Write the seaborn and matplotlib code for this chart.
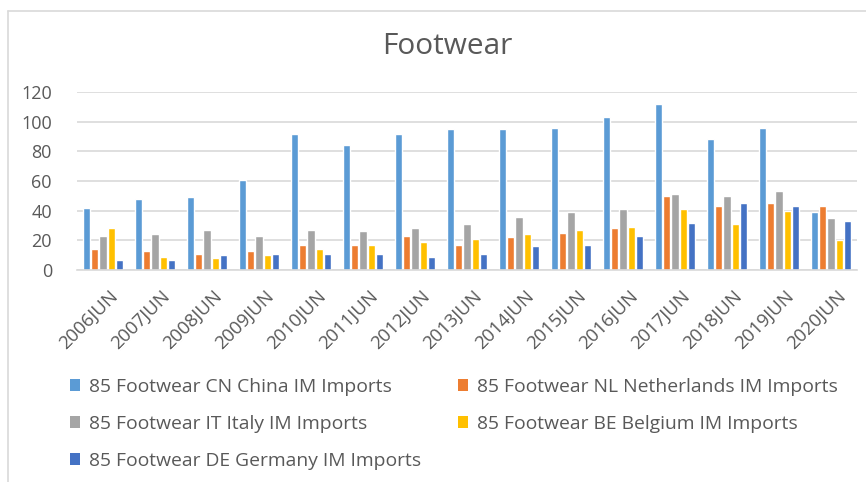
import matplotlib
matplotlib.use("Agg")
import matplotlib.pyplot as plt
import matplotlib.transforms as mtrans
import seaborn as sns
import pandas as pd
from matplotlib.patches import Patch
from matplotlib.lines import Line2D

years = ["2006JUN", "2007JUN", "2008JUN", "2009JUN", "2010JUN", "2011JUN", "2012JUN",
         "2013JUN", "2014JUN", "2015JUN", "2016JUN", "2017JUN", "2018JUN", "2019JUN", "2020JUN"]
series_names = ["85 Footwear CN China IM Imports", "85 Footwear NL Netherlands IM Imports",
                "85 Footwear IT Italy IM Imports", "85 Footwear BE Belgium IM Imports",
                "85 Footwear DE Germany IM Imports"]
cn = [42, 48, 49, 61, 92, 84, 92, 95, 95, 96, 103, 112, 88, 96, 39]
nl = [14, 13, 11, 13, 17, 17, 23, 17, 22, 25, 28, 50, 43, 45, 43]
it = [23, 24, 27, 23, 27, 26, 28, 31, 36, 39, 41, 51, 50, 53, 35]
be = [28, 9, 8, 10, 14, 17, 19, 21, 24, 27, 29, 41, 31, 40, 20]
de = [7, 7, 10, 11, 11, 11, 9, 11, 16, 17, 23, 32, 45, 43, 33]
colors = ["#5B9BD5", "#ED7D31", "#A5A5A5", "#FFC000", "#4472C4"]

rows = []
for name, vals in zip(series_names, [cn, nl, it, be, de]):
    for y, v in zip(years, vals):
        rows.append({"year": y, "series": name, "value": v})
df = pd.DataFrame(rows)

sns.set_theme(style="white")
plt.rcParams["font.family"] = ["Open Sans", "DejaVu Sans"]
txt = "#595959"

fig = plt.figure(figsize=(8.66, 4.82), dpi=100)
W, H = 866, 482
ax = fig.add_axes([77 / W, (H - 270) / H, 780 / W, 178 / H])
sns.barplot(data=df, x="year", y="value", hue="series", order=years,
            hue_order=series_names, palette=colors, width=0.8, gap=0.12,
            ax=ax, legend=False, saturation=1)
ax.set_ylim(0, 120)
ax.set_xlim(-0.5, len(years) - 0.5)
ax.set_yticks([0, 20, 40, 60, 80, 100, 120])
ax.yaxis.grid(True, color="#D9D9D9", linewidth=1.2)
ax.set_axisbelow(True)
for s in ["top", "right", "left"]:
    ax.spines[s].set_visible(False)
ax.spines["bottom"].set_color("#D9D9D9")
ax.spines["bottom"].set_linewidth(1.2)
ax.set_xlabel("")
ax.set_ylabel("")
ax.tick_params(axis="y", length=0, pad=18, labelsize=13, labelcolor=txt)
ax.tick_params(axis="x", length=0, pad=12, labelsize=13.3, labelcolor=txt)
shift = mtrans.ScaledTranslation(6 / 100, 0, fig.dpi_scale_trans)
for lab in ax.get_xticklabels():
    lab.set_rotation(45)
    lab.set_ha("right")
    lab.set_va("top")
    lab.set_rotation_mode("anchor")
    lab.set_transform(lab.get_transform() + shift)

fig.text(447 / W, 1 - 47 / H, "Footwear", ha="center", va="center", fontsize=21.5, color=txt)

order_idx = [0, 2, 4, 1, 3]
handles = [Patch(facecolor=colors[i], edgecolor="none") for i in order_idx]
labels = [series_names[i] for i in order_idx]
leg = fig.legend(handles, labels, ncol=2, loc="upper left",
                 bbox_to_anchor=(62 / W, 1 - 370 / H), frameon=False,
                 fontsize=13.9, labelcolor=txt, handlelength=0.55, handleheight=0.55,
                 handletextpad=0.45, columnspacing=1.9, labelspacing=0.99,
                 borderaxespad=0, borderpad=0.4)

fig.add_artist(Line2D([8 / W, 1], [1 - 11 / H, 1 - 11 / H], transform=fig.transFigure,
                      color="#D9D9D9", linewidth=1.2))
fig.add_artist(Line2D([8 / W, 8 / W], [0, 1 - 11 / H], transform=fig.transFigure,
                      color="#D9D9D9", linewidth=1.2))

fig.savefig("out.png", dpi=100)
